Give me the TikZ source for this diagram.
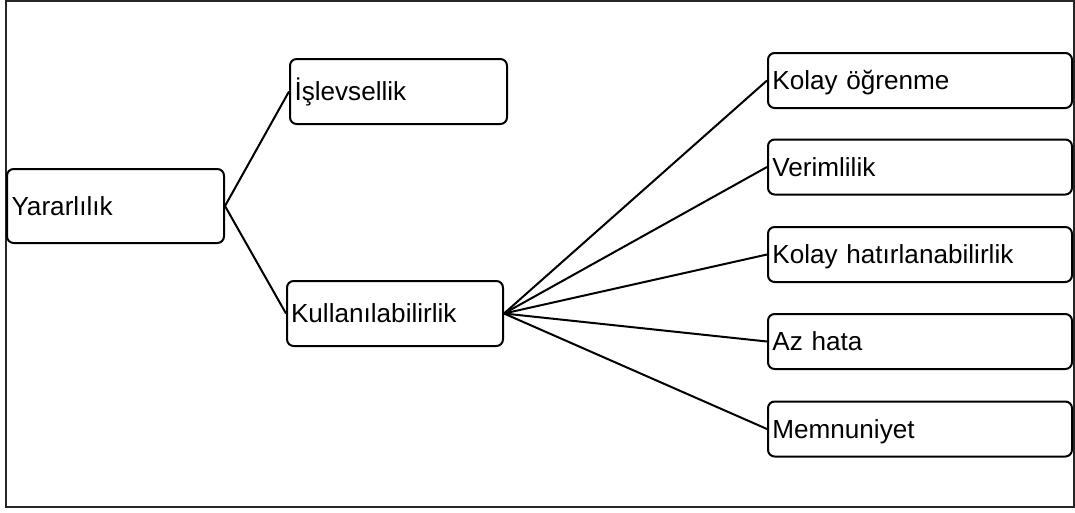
\documentclass[tikz,border=0pt]{standalone}
\usepackage{fontspec}
\setmainfont{Liberation Sans}
\begin{document}
\begin{tikzpicture}[x=0.75pt,y=-0.75pt,
  box/.style={draw=black, line width=1.5pt, rounded corners=5pt, fill=white,
    inner xsep=3pt, inner ysep=0pt, align=left, text height=14pt, text depth=0pt,
    font=\fontsize{19.6pt}{23pt}\selectfont},
  lbox/.style={box, minimum width=162.75pt, text width=156pt},
  rbox/.style={box, minimum width=228pt, minimum height=41.25pt, text width=221.5pt},
  link/.style={draw=black, line width=1.5pt},
  frame/.style={draw=black!85, line width=1pt}]
\useasboundingbox (0,0) rectangle (1075,512);
\draw[frame] (6,1) rectangle (1074,507);
\node[lbox, minimum height=55.5pt] (yar) at (115.5,206) {Yararlılık};
\node[lbox, minimum height=48.75pt] (isl) at (398.5,91.5) {İşlevsellik};
\node[lbox, minimum height=48.75pt, minimum width=162pt] (kul) at (395,313.5) {Kullanılabilirlik};
\node[rbox] (kol) at (920,80.5) {Kolay öğrenme};
\node[rbox] (ver) at (920,167) {Verimlilik};
\node[rbox] (hat) at (920,254.5) {Kolay hatırlanabilirlik};
\node[rbox] (az) at (920,341.5) {Az hata};
\node[rbox] (mem) at (920,429) {Memnuniyet};
\draw[link] (yar.east) -- (isl.west);
\draw[link] (yar.east) -- (kul.west);
\foreach \t in {kol,ver,hat,az,mem}
  \draw[link] (kul.east) -- (\t.west);
\end{tikzpicture}
\end{document}
